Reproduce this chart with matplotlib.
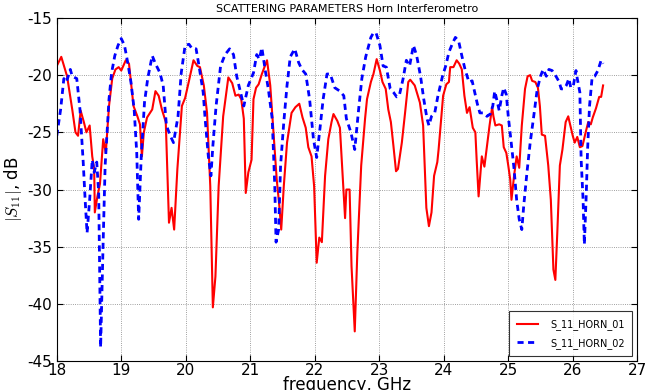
import matplotlib
matplotlib.use("Agg")
import matplotlib.pyplot as plt

# S11 horn 01 (red, solid)
f1 = [18.00, 18.07, 18.16, 18.24, 18.29, 18.33, 18.37, 18.42, 18.46, 18.51,
      18.55, 18.58, 18.59, 18.63, 18.67, 18.72, 18.76, 18.81, 18.86, 18.91,
      18.96, 19.00, 19.07, 19.12, 19.19, 19.25, 19.29, 19.32, 19.35, 19.40,
      19.48, 19.53, 19.58, 19.63, 19.69, 19.74, 19.78, 19.82, 19.87, 19.94,
      19.99, 20.05, 20.12, 20.18, 20.22, 20.28, 20.33, 20.38, 20.42, 20.46,
      20.51, 20.58, 20.66, 20.72, 20.77, 20.82, 20.86, 20.90, 20.93, 20.97,
      21.02, 21.05, 21.09, 21.13, 21.18, 21.26, 21.31, 21.36, 21.41, 21.45,
      21.48, 21.52, 21.57, 21.64, 21.70, 21.76, 21.81, 21.86, 21.90, 21.95,
      21.99, 22.03, 22.07, 22.11, 22.16, 22.21, 22.26, 22.29, 22.35, 22.39,
      22.43, 22.47, 22.49, 22.54, 22.57, 22.62, 22.66, 22.72, 22.78, 22.81,
      22.87, 22.91, 22.96, 23.01, 23.05, 23.10, 23.14, 23.18, 23.22, 23.26,
      23.29, 23.35, 23.40, 23.45, 23.48, 23.55, 23.63, 23.68, 23.73, 23.77,
      23.81, 23.85, 23.90, 23.92, 23.99, 24.04, 24.08, 24.10, 24.15, 24.20,
      24.24, 24.28, 24.32, 24.36, 24.40, 24.45, 24.49, 24.51, 24.54, 24.59,
      24.63, 24.67, 24.71, 24.75, 24.77, 24.80, 24.86, 24.90, 24.93, 24.97,
      25.00, 25.03, 25.05, 25.09, 25.13, 25.17, 25.21, 25.26, 25.30, 25.34,
      25.37, 25.42, 25.46, 25.49, 25.52, 25.57, 25.62, 25.66, 25.70, 25.73,
      25.76, 25.80, 25.84, 25.89, 25.93, 25.95, 26.00, 26.03, 26.07, 26.11,
      26.15, 26.20, 26.24, 26.28, 26.31, 26.36, 26.41, 26.44, 26.47]
s1 = [-19.2, -18.4, -20.1, -23.0, -25.0, -25.3, -23.1, -24.1, -25.0, -24.4,
      -27.1, -28.2, -32.0, -30.6, -29.5, -25.6, -26.8, -22.7, -20.3, -19.5,
      -19.3, -19.6, -18.7, -19.0, -22.7, -23.6, -24.3, -27.1, -25.0, -23.7,
      -23.0, -21.4, -21.8, -23.0, -24.1, -32.9, -31.6, -33.5, -28.2, -22.7,
      -22.0, -20.5, -18.7, -19.2, -19.3, -20.9, -23.3, -29.7, -40.3, -37.6,
      -29.7, -23.6, -20.2, -20.7, -21.8, -21.7, -22.1, -23.8, -30.3, -28.5,
      -27.4, -22.1, -21.1, -20.8, -19.9, -18.7, -20.9, -25.0, -29.1, -31.4,
      -33.5, -29.7, -25.9, -23.3, -22.8, -22.5, -23.7, -24.6, -26.3, -27.1,
      -29.7, -36.4, -34.2, -34.6, -28.8, -25.6, -24.1, -23.4, -24.0, -24.6,
      -28.5, -32.5, -30.0, -30.0, -36.7, -42.4, -35.5, -27.9, -23.8, -22.1,
      -20.6, -19.9, -18.6, -19.6, -20.6, -21.2, -23.0, -24.1, -26.2, -28.4,
      -28.2, -25.9, -23.3, -20.6, -20.4, -20.9, -22.4, -24.4, -31.6, -33.2,
      -32.0, -28.8, -27.6, -26.5, -21.8, -20.8, -20.6, -19.3, -19.3, -18.7,
      -19.0, -19.5, -21.8, -23.3, -22.8, -24.6, -25.0, -27.4, -30.6, -27.1,
      -28.0, -26.2, -24.4, -22.8, -23.6, -24.4, -24.3, -24.4, -26.3, -26.8,
      -27.9, -29.1, -30.9, -28.8, -27.1, -28.1, -24.4, -21.2, -20.1, -20.0,
      -20.5, -20.6, -21.1, -22.7, -25.2, -25.3, -27.9, -30.9, -37.0, -37.9,
      -33.8, -27.9, -26.5, -24.1, -23.6, -24.1, -25.3, -25.9, -25.4, -26.3,
      -26.2, -25.0, -24.1, -24.3, -23.7, -22.9, -21.9, -21.9, -20.9]

# S11 horn 02 (blue, dashed)
f2 = [18.00, 18.06, 18.11, 18.15, 18.21, 18.24, 18.31, 18.36, 18.41, 18.44,
      18.47, 18.51, 18.55, 18.58, 18.62, 18.65, 18.68, 18.72, 18.75, 18.81,
      18.85, 18.90, 18.95, 19.00, 19.05, 19.10, 19.15, 19.20, 19.24, 19.27,
      19.31, 19.36, 19.41, 19.48, 19.53, 19.60, 19.65, 19.70, 19.76, 19.81,
      19.88, 19.93, 19.99, 20.05, 20.10, 20.16, 20.20, 20.27, 20.30, 20.35,
      20.39, 20.42, 20.47, 20.54, 20.61, 20.68, 20.74, 20.79, 20.85, 20.90,
      20.97, 21.05, 21.10, 21.14, 21.18, 21.23, 21.28, 21.34, 21.38, 21.40,
      21.44, 21.47, 21.52, 21.57, 21.62, 21.69, 21.75, 21.80, 21.86, 21.92,
      21.98, 22.03, 22.08, 22.13, 22.19, 22.24, 22.31, 22.39, 22.45, 22.49,
      22.56, 22.62, 22.68, 22.73, 22.79, 22.87, 22.91, 22.95, 23.01, 23.06,
      23.11, 23.17, 23.22, 23.27, 23.31, 23.37, 23.42, 23.47, 23.53, 23.58,
      23.64, 23.69, 23.74, 23.77, 23.81, 23.86, 23.91, 23.98, 24.03, 24.08,
      24.13, 24.18, 24.23, 24.28, 24.33, 24.39, 24.44, 24.48, 24.52, 24.56,
      24.62, 24.67, 24.72, 24.76, 24.79, 24.82, 24.86, 24.90, 24.93, 24.97,
      25.00, 25.04, 25.09, 25.13, 25.17, 25.21, 25.24, 25.29, 25.34, 25.39,
      25.45, 25.50, 25.54, 25.59, 25.63, 25.68, 25.74, 25.79, 25.82, 25.86,
      25.90, 25.94, 25.97, 26.01, 26.05, 26.07, 26.11, 26.13, 26.16, 26.18,
      26.21, 26.23, 26.26, 26.30, 26.34, 26.39, 26.44, 26.47]
s2 = [-25.3, -23.0, -20.3, -20.6, -19.5, -20.1, -20.3, -23.0, -27.6, -30.9,
      -33.8, -30.9, -27.4, -28.5, -27.6, -30.3, -43.8, -34.4, -27.9, -22.1,
      -19.8, -18.3, -17.4, -16.8, -17.4, -18.9, -20.6, -23.0, -26.8, -32.6,
      -27.1, -22.4, -20.3, -18.3, -19.0, -19.8, -20.9, -24.4, -25.3, -25.9,
      -23.6, -19.8, -17.4, -17.3, -17.7, -17.7, -19.0, -21.5, -23.8, -27.1,
      -28.8, -26.2, -22.7, -19.2, -18.2, -17.7, -18.2, -20.1, -21.5, -22.7,
      -20.9, -19.8, -18.2, -18.6, -17.6, -19.5, -21.2, -23.8, -29.7, -34.6,
      -33.5, -27.9, -24.1, -20.9, -18.4, -17.7, -18.9, -19.5, -19.9, -22.1,
      -25.6, -27.2, -24.7, -22.1, -19.9, -19.9, -21.1, -21.4, -21.8, -23.8,
      -25.0, -26.5, -23.0, -20.3, -18.4, -16.7, -16.3, -16.3, -17.4, -19.2,
      -19.3, -21.2, -21.5, -21.9, -21.8, -20.3, -18.7, -19.2, -17.4, -18.3,
      -20.1, -22.1, -23.8, -24.4, -23.6, -23.3, -21.8, -20.1, -19.2, -18.0,
      -17.3, -16.7, -17.0, -18.3, -19.5, -20.6, -20.5, -21.5, -22.5, -23.3,
      -23.3, -23.6, -23.4, -22.7, -21.4, -22.1, -23.1, -21.8, -21.1, -21.7,
      -23.6, -25.6, -28.2, -30.9, -32.6, -33.5, -31.4, -28.5, -25.9, -23.8,
      -21.2, -20.1, -19.5, -20.1, -19.5, -19.6, -20.1, -20.6, -21.2, -21.2,
      -20.9, -20.3, -21.1, -20.9, -19.6, -20.3, -21.5, -27.4, -30.9, -34.8,
      -30.3, -26.5, -22.7, -20.2, -20.1, -19.6, -18.7, -19.0]

plt.rcParams['xtick.direction'] = 'in'
plt.rcParams['ytick.direction'] = 'in'
plt.rcParams['axes.unicode_minus'] = False
plt.rcParams['mathtext.fontset'] = 'cm'

fig = plt.figure(figsize=(6.45, 3.9), dpi=100)
ax = fig.add_axes([0.088, 0.074, 0.900, 0.880])

ax.plot(f1, s1, color='red', linewidth=1.5, label='S_11_HORN_01')
ax.plot(f2, s2, color='blue', linestyle='--', dashes=(2.2, 1.6), linewidth=2,
        label='S_11_HORN_02')

ax.set_xlim(18, 27)
ax.set_ylim(-45, -15)
ax.set_xticks(range(18, 28))
ax.set_yticks(range(-45, -14, 5))
ax.tick_params(labelsize=11, top=True, right=True, length=4)
ax.tick_params(axis='x', pad=1)
ax.grid(True, color='gray', linestyle=':', linewidth=0.6)

ax.set_title('SCATTERING PARAMETERS Horn Interferometro', fontsize=8, pad=4)
ax.set_xlabel('frequency, GHz', fontsize=12, labelpad=-1)
ax.set_ylabel('$|S_{11}|$, dB', fontsize=12, labelpad=2)

leg = ax.legend(loc='lower right', fontsize=7, fancybox=False, edgecolor='black',
                handlelength=2.2, borderpad=0.8, labelspacing=0.8,
                handletextpad=1.2)
leg.get_frame().set_linewidth(0.8)

fig.savefig('out.png', dpi=100)
